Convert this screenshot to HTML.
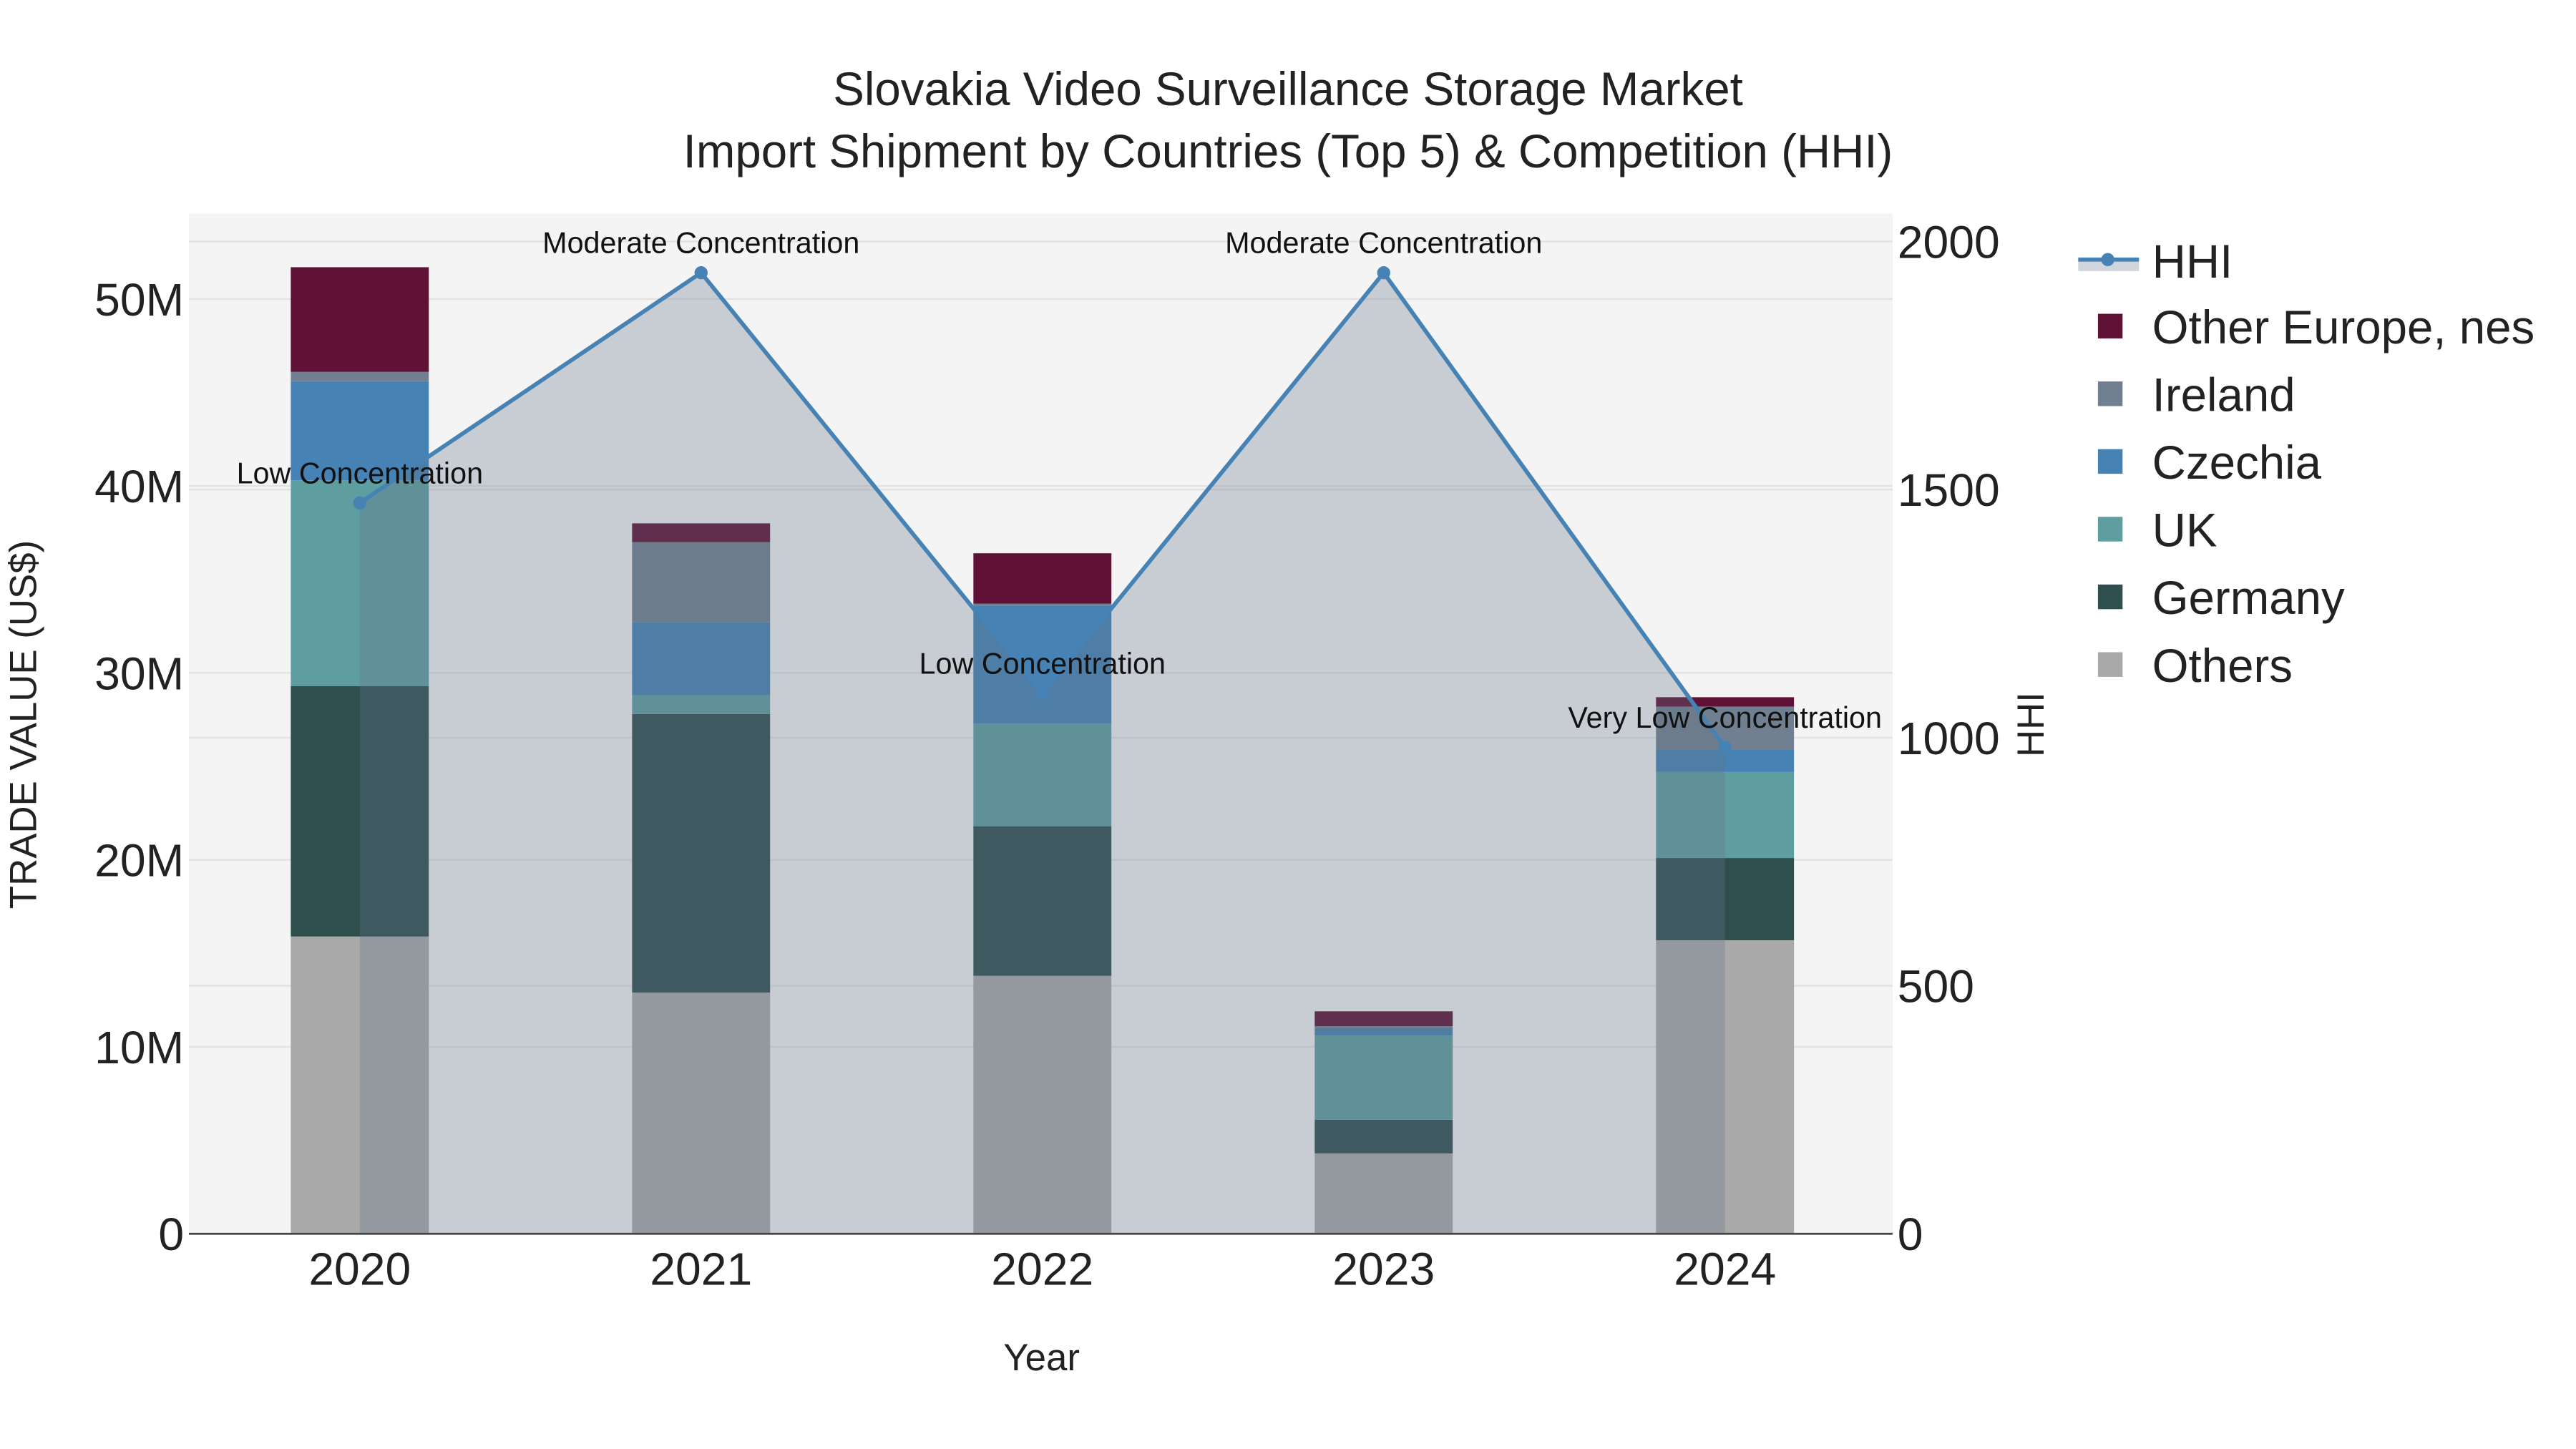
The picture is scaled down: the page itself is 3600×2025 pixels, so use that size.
<!DOCTYPE html>
<html><head><meta charset="utf-8"><style>
html,body{margin:0;padding:0;background:#fff;}
svg{display:block;font-family:"Liberation Sans",Arial,sans-serif;}
</style></head><body>
<svg id="chart" width="3600" height="2025" viewBox="0 0 1568 882" xmlns="http://www.w3.org/2000/svg">
<rect x="0" y="0" width="1568" height="882" fill="#fff"/>
<rect x="115" y="130" width="1037" height="621" fill="#f4f4f4"/>
<g id="grid"></g>
<g id="bars"></g>
<g id="hhi"></g>
<g id="axes"></g>
<text x="784" y="64" font-size="28.5" text-anchor="middle" fill="#222">Slovakia Video Surveillance Storage Market</text>
<text x="784" y="102" font-size="28.5" text-anchor="middle" fill="#222">Import Shipment by Countries (Top 5) &amp; Competition (HHI)</text>
<text x="634" y="834" font-size="23" text-anchor="middle" fill="#222">Year</text>
<text transform="translate(22,441) rotate(-90)" font-size="23" text-anchor="middle" fill="#222">TRADE VALUE (US$)</text>
<text transform="translate(1244,441) rotate(-90)" font-size="23" text-anchor="middle" fill="#222">HHI</text>
<g id="legend"></g>
</svg>
<script>
const years=["2020","2021","2022","2023","2024"];
const others=[15.9,12.9,13.8,4.3,15.7];
const germany=[13.4,14.9,8.0,1.8,4.4];
const uk=[11.0,1.0,5.5,4.5,4.6];
const czechia=[5.3,3.9,6.3,0.4,1.2];
const ireland=[0.5,4.3,0.1,0.1,2.3];
const otherEurope=[5.6,1.0,2.7,0.8,0.5];
const hhi=[1473,1937,1089,1937,980];
const hhiLabels=["Low Concentration","Moderate Concentration","Low Concentration","Moderate Concentration","Very Low Concentration"];
const yTicks=[0,10,20,30,40,50];
const yTickLabels=["0","10M","20M","30M","40M","50M"];
const y2Ticks=[0,500,1000,1500,2000];

const NS="http://www.w3.org/2000/svg";
const X0=115,X1=1152,Y0=751;
const xPos=i=>219+i*207.75;
const yL=v=>Y0-v*11.38;
const yR=v=>Y0-v*0.302;
function mk(tag,attrs,parent){const e=document.createElementNS(NS,tag);for(const k in attrs)e.setAttribute(k,attrs[k]);parent.appendChild(e);return e;}
const grid=document.getElementById('grid'),bars=document.getElementById('bars'),hg=document.getElementById('hhi'),ax=document.getElementById('axes'),lg=document.getElementById('legend');
yTicks.forEach((t,i)=>{
 if(t>0){const l=mk('line',{x1:X0,x2:X1,y1:yL(t),y2:yL(t),stroke:'#e2e2e2','stroke-width':1},grid);
 
 }
 const tx=mk('text',{x:112,y:yL(t)+10,'font-size':28,'text-anchor':'end',fill:'#222'},ax);tx.textContent=yTickLabels[i];
 
 
});
y2Ticks.forEach(t=>{
 if(t>0){const l=mk('line',{x1:X0,x2:X1,y1:yR(t),y2:yR(t),stroke:'#e2e2e2','stroke-width':1},grid);
 
 }
 const tx=mk('text',{x:1155,y:yR(t)+10,'font-size':28,fill:'#222'},ax);tx.textContent=String(t);
 
 
});
const series=[["Others",others,"#a9a9a9"],["Germany",germany,"#2f4f4f"],["UK",uk,"#5f9ea0"],["Czechia",czechia,"#4682b4"],["Ireland",ireland,"#708090"],["Other Europe, nes",otherEurope,"#5f1235"]];
years.forEach((yr,i)=>{
 let base=0;
 series.forEach(s=>{
  const v=s[1][i];
  const r=mk('rect',{x:xPos(i)-42,width:84,y:yL(base+v),height:v*11.38,fill:s[2]},bars);
  
  
  base+=v;
 });
 const tx=mk('text',{x:xPos(i),y:782,'font-size':28,'text-anchor':'middle',fill:'#222'},ax);tx.textContent=yr;
 
 
});
let d='M'+xPos(0)+','+Y0;
hhi.forEach((h,i)=>d+=' L'+xPos(i)+','+yR(h));
d+=' L'+xPos(hhi.length-1)+','+Y0+' Z';
const area=mk('path',{d:d,fill:'rgba(100,115,135,0.3)'},hg);


const line=mk('polyline',{points:hhi.map((h,i)=>xPos(i)+','+yR(h)).join(' '),fill:'none',stroke:'#4682b4','stroke-width':2.5},hg);


hhi.forEach((h,i)=>{
 const c=mk('circle',{cx:xPos(i),cy:yR(h),r:4,fill:'#4682b4'},hg);
 
 
 const t=mk('text',{x:xPos(i),y:yR(h)-12,'font-size':18,'text-anchor':'middle',fill:'#111'},hg);t.textContent=hhiLabels[i];
 
 
});
const ax0=mk('line',{x1:X0,x2:X1,y1:Y0,y2:Y0,stroke:'#444','stroke-width':1.2},ax);


// legend
const lh=mk('line',{x1:1265,x2:1302,y1:158,y2:158,stroke:'#4682b4','stroke-width':2.5},lg);


mk('rect',{x:1265,y:159,width:37,height:6,fill:'rgba(100,115,135,0.3)'},lg);
mk('circle',{cx:1283,cy:158,r:4,fill:'#4682b4'},lg);
const lt=mk('text',{x:1310,y:169,'font-size':28.5,fill:'#222'},lg);lt.textContent='HHI';


series.slice().reverse().forEach((s,k)=>{
 const yy=199+k*41.2;
 const r=mk('rect',{x:1277,y:yy-8,width:15,height:15,fill:s[2]},lg);
 
 
 const t=mk('text',{x:1310,y:yy+10,'font-size':28.5,fill:'#222'},lg);t.textContent=s[0];
 
 
});
</script>
</body></html>
